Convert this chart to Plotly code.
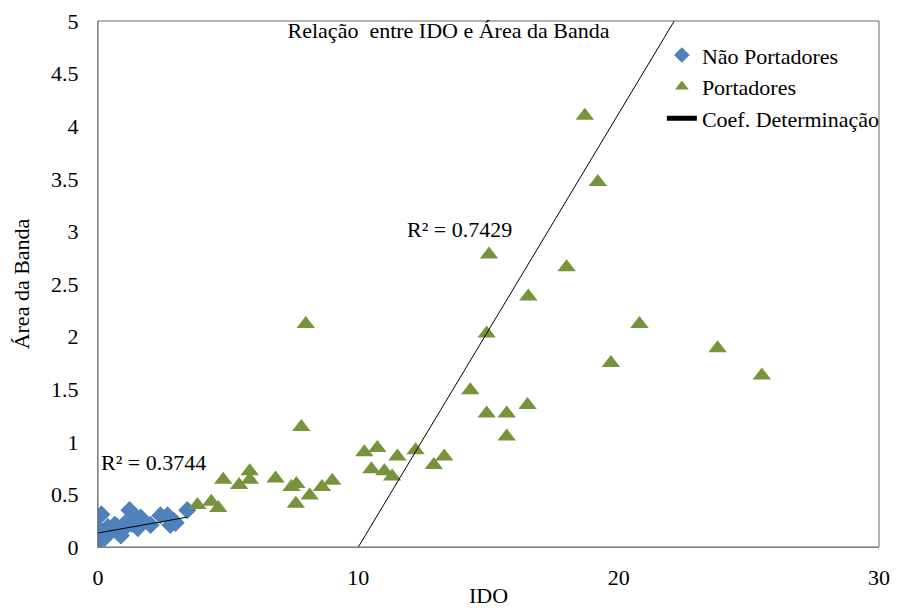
import plotly.graph_objects as go

# Não Portadores (IDO, Área da Banda)
nao_x = [0.13, 0.0, 0.02, 0.25, 0.38, 0.50, 0.64, 0.76, 0.88, 1.02, 1.21, 1.40, 1.53,
         1.64, 1.30, 2.02, 2.40, 2.67, 2.78, 2.98, 3.43, 0.10, 0.70, 1.10, 2.90]
nao_y = [0.31, 0.18, 0.05, 0.085, 0.19, 0.15, 0.21, 0.14, 0.11, 0.18, 0.35, 0.30, 0.18,
         0.28, 0.22, 0.21, 0.30, 0.30, 0.21, 0.23, 0.35, 0.12, 0.20, 0.24, 0.25]

# Portadores (IDO, Área da Banda)
port_x = [3.82, 4.35, 4.62, 4.81, 5.42, 5.83, 5.83, 6.82, 7.43, 7.62, 7.60, 7.81, 7.98,
          8.13, 8.60, 9.00, 10.23, 10.73, 10.50, 11.00, 11.50, 11.30, 12.20, 12.90, 13.30,
          14.30, 14.93, 14.93, 15.02, 15.70, 15.70, 16.50, 16.53, 18.00, 18.70, 19.20,
          19.70, 20.80, 23.80, 25.50]
port_y = [0.40, 0.43, 0.37, 0.64, 0.59, 0.72, 0.64, 0.65, 0.57, 0.60, 0.41, 1.14, 2.12,
          0.49, 0.57, 0.63, 0.90, 0.94, 0.74, 0.72, 0.86, 0.67, 0.92, 0.78, 0.86,
          1.49, 1.27, 2.03, 2.78, 1.27, 1.05, 1.35, 2.38, 2.66, 4.10, 3.47,
          1.75, 2.12, 1.89, 1.63]

# Linear trendlines (slope, intercept) and their R² labels
nao_fit = (0.044, 0.133)
port_fit = (0.412, -4.12)
nao_r2 = "R² = 0.3744"
port_r2 = "R² = 0.7429"

serif = "Liberation Serif, Times New Roman, serif"
fs = 22

def fit_line(xs, fit):
    lo, hi = min(xs), max(xs)
    return [lo, hi], [fit[0] * lo + fit[1], fit[0] * hi + fit[1]]

fig = go.Figure()
fig.add_trace(go.Scatter(x=nao_x, y=nao_y, mode="markers", name="Não Portadores",
                         marker=dict(symbol="diamond", size=14, color="#4f81bd")))
fig.add_trace(go.Scatter(x=port_x, y=port_y, mode="markers", name="Portadores",
                         marker=dict(symbol="triangle-up", size=16, color="#77933c")))

lx, ly = fit_line(nao_x, nao_fit)
fig.add_trace(go.Scatter(x=lx, y=ly, mode="lines", showlegend=False,
                         line=dict(color="black", width=1)))
lx, ly = fit_line(port_x, port_fit)
fig.add_trace(go.Scatter(x=lx, y=ly, mode="lines", name="Coef. Determinação",
                         line=dict(color="black", width=1)))

fig.add_annotation(x=0.05, y=0.8, text=nao_r2, showarrow=False, xanchor="left",
                   font=dict(family=serif, size=fs, color="black"))
fig.add_annotation(x=11.8, y=3.02, text=port_r2, showarrow=False, xanchor="left",
                   font=dict(family=serif, size=fs, color="black"))

# plot-area frame
fig.add_shape(type="rect", xref="paper", yref="paper", x0=0, y0=0, x1=1, y1=1,
              line=dict(color="#666666", width=1), layer="above")

fig.update_layout(
    width=897, height=608,
    margin=dict(l=98, r=13, t=21, b=61),
    paper_bgcolor="white", plot_bgcolor="white",
    font=dict(family=serif, size=fs, color="black"),
    title=dict(text="Relação  entre IDO e Área da Banda", x=0.5, xanchor="center",
               y=0.95, yanchor="middle", font=dict(family=serif, size=fs)),
    legend=dict(x=0.722, y=0.975, xanchor="left", yanchor="top",
                bgcolor="rgba(0,0,0,0)", font=dict(family=serif, size=fs),
                itemsizing="constant", tracegroupgap=0, itemwidth=30),
    showlegend=True,
)
fig.update_xaxes(range=[0, 30], dtick=10, showgrid=False, zeroline=False,
                 showline=True, linecolor="#9a9a9a", ticks="", ticklabelstandoff=11,
                 automargin=False,
                 title=dict(text="IDO", standoff=0, font=dict(family=serif, size=fs)))
fig.update_yaxes(range=[0, 5], dtick=0.5, showgrid=False, zeroline=False,
                 showline=True, linecolor="#9a9a9a", ticks="", ticklabelstandoff=14,
                 automargin=False,
                 title=dict(text="Área da Banda", standoff=15, font=dict(family=serif, size=fs)))

fig.write_html("out.html")
